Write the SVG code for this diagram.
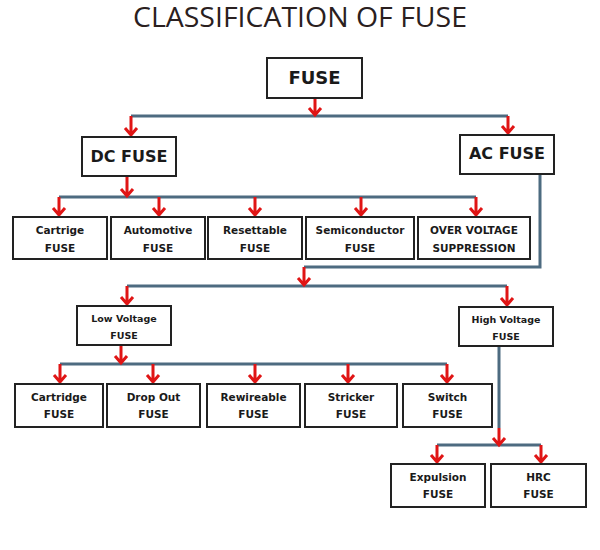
<svg xmlns="http://www.w3.org/2000/svg" width="600" height="550" viewBox="0 0 600 550">
<style>
.box{fill:#fff;stroke:#222;stroke-width:2}
.t{font-family:"DejaVu Sans",Verdana,sans-serif;font-weight:bold;fill:#1a1a1a;text-anchor:middle}
.s{font-size:10.5px}
.m{font-size:9.5px}
.ln{fill:none;stroke:#4d6b80;stroke-width:3;stroke-linejoin:miter}
.ar{fill:none;stroke:#e01515;stroke-width:3;stroke-linecap:butt;stroke-linejoin:miter}
.title{font-family:"Open Sans",sans-serif;font-size:26.5px;fill:#2a2020;text-anchor:middle}
</style>
<rect width="600" height="550" fill="#fff"/>
<text class="title" x="300" y="27" textLength="334" lengthAdjust="spacingAndGlyphs">CLASSIFICATION OF FUSE</text>

<g id="connectors">
  <path class="ln" d="M131,116 H508"/>
  <path class="ln" d="M59,197 H476"/>
  <path class="ln" d="M540,174 V267 H304"/>
  <path class="ln" d="M127,286 H507"/>
  <path class="ln" d="M60,364 H447"/>
  <path class="ln" d="M499,346 V428"/>
  <path class="ln" d="M437,445 H541"/>
  <!-- red arrows -->
  <path class="ar" d="M315,98 V115 M309,108 L315,115 L321,108"/>
  <path class="ar" d="M131,116 V135 M125,128 L131,135 L137,128"/>
  <path class="ar" d="M508,116 V133 M502,126 L508,133 L514,126"/>
  <path class="ar" d="M127,176 V196 M121,189 L127,196 L133,189"/>
  <path class="ar" d="M59,197 V215 M53,208 L59,215 L65,208"/>
  <path class="ar" d="M159,197 V215 M153,208 L159,215 L165,208"/>
  <path class="ar" d="M255,197 V215 M249,208 L255,215 L261,208"/>
  <path class="ar" d="M361,197 V215 M355,208 L361,215 L367,208"/>
  <path class="ar" d="M476,197 V215 M470,208 L476,215 L482,208"/>
  <path class="ar" d="M304,267 V285 M298,278 L304,285 L310,278"/>
  <path class="ar" d="M127,286 V304 M121,297 L127,304 L133,297"/>
  <path class="ar" d="M507,286 V305 M501,298 L507,305 L513,298"/>
  <path class="ar" d="M121,345 V363 M115,356 L121,363 L127,356"/>
  <path class="ar" d="M60,364 V382 M54,375 L60,382 L66,375"/>
  <path class="ar" d="M153,364 V382 M147,375 L153,382 L159,375"/>
  <path class="ar" d="M255,364 V382 M249,375 L255,382 L261,375"/>
  <path class="ar" d="M348,364 V382 M342,375 L348,382 L354,375"/>
  <path class="ar" d="M447,364 V382 M441,375 L447,382 L453,375"/>
  <path class="ar" d="M499,428 V445 M493,438 L499,445 L505,438"/>
  <path class="ar" d="M437,445 V462 M431,455 L437,462 L443,455"/>
  <path class="ar" d="M541,445 V462 M535,455 L541,462 L547,455"/>
</g>

<g id="fuse"><rect class="box" x="267" y="58" width="95" height="40"/><text class="t" x="314.5" y="84" font-size="18">FUSE</text></g>
<g id="dc"><rect class="box" x="82" y="137" width="94" height="39"/><text class="t" x="129" y="162" font-size="16">DC FUSE</text></g>
<g id="ac"><rect class="box" x="460" y="135" width="94" height="39"/><text class="t" x="507" y="159" font-size="16">AC FUSE</text></g>

<g id="cartrige"><rect class="box" x="13" y="217" width="94" height="42"/><text class="t s" x="60" y="234">Cartrige</text><text class="t s" x="60" y="252">FUSE</text></g>
<g id="automotive"><rect class="box" x="111" y="217" width="94" height="42"/><text class="t s" x="158" y="234">Automotive</text><text class="t s" x="158" y="252">FUSE</text></g>
<g id="resettable"><rect class="box" x="208" y="217" width="94" height="42"/><text class="t s" x="255" y="234">Resettable</text><text class="t s" x="255" y="252">FUSE</text></g>
<g id="semiconductor"><rect class="box" x="306" y="217" width="108" height="42"/><text class="t s" x="360" y="234">Semiconductor</text><text class="t s" x="360" y="252">FUSE</text></g>
<g id="overvoltage"><rect class="box" x="418" y="217" width="112" height="42"/><text class="t s" x="474" y="234">OVER VOLTAGE</text><text class="t s" x="474" y="252">SUPPRESSION</text></g>

<g id="lowvoltage"><rect class="box" x="77" y="306" width="94" height="39"/><text class="t m" x="124" y="322">Low Voltage</text><text class="t m" x="124" y="339">FUSE</text></g>
<g id="highvoltage"><rect class="box" x="459" y="307" width="94" height="39"/><text class="t m" x="506" y="323">High Voltage</text><text class="t m" x="506" y="340">FUSE</text></g>

<g id="cartridge"><rect class="box" x="15" y="384" width="88" height="43"/><text class="t s" x="59" y="401">Cartridge</text><text class="t s" x="59" y="418">FUSE</text></g>
<g id="dropout"><rect class="box" x="107" y="384" width="93" height="43"/><text class="t s" x="153.5" y="401">Drop Out</text><text class="t s" x="153.5" y="418">FUSE</text></g>
<g id="rewireable"><rect class="box" x="207" y="384" width="93" height="43"/><text class="t s" x="253.5" y="401">Rewireable</text><text class="t s" x="253.5" y="418">FUSE</text></g>
<g id="stricker"><rect class="box" x="305" y="384" width="92" height="43"/><text class="t s" x="351" y="401">Stricker</text><text class="t s" x="351" y="418">FUSE</text></g>
<g id="switch"><rect class="box" x="403" y="384" width="89" height="43"/><text class="t s" x="447.5" y="401">Switch</text><text class="t s" x="447.5" y="418">FUSE</text></g>

<g id="expulsion"><rect class="box" x="391" y="464" width="94" height="43"/><text class="t s" x="438" y="481">Expulsion</text><text class="t s" x="438" y="498">FUSE</text></g>
<g id="hrc"><rect class="box" x="491" y="464" width="95" height="43"/><text class="t s" x="538.5" y="481">HRC</text><text class="t s" x="538.5" y="498">FUSE</text></g>
</svg>
